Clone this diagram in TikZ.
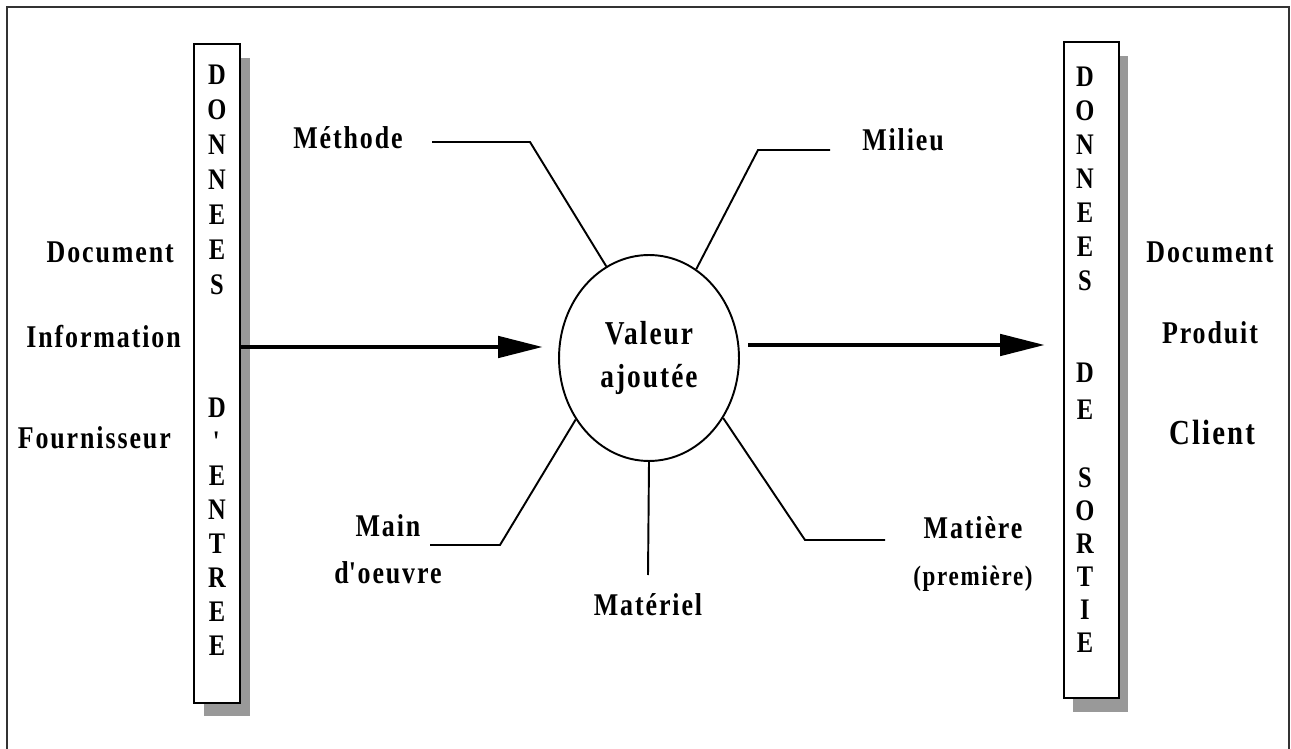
\documentclass[tikz,border=0pt]{standalone}
\usepackage{fontspec}
\setmainfont[FakeStretch=0.82,LetterSpace=6]{Liberation Serif}
\usetikzlibrary{positioning,shapes.geometric,shadows,arrows.meta}
\tikzset{%
  every bar/.style={
    draw,
    line width=1.1pt,
    fill=white,
    inner sep=0pt
  },
  bar letter/.style={
    font=\fontsize{17}{17}\selectfont\bfseries
  },
  spoke label/.style={
    font=\fontsize{18}{27}\selectfont\bfseries,
    align=center
  },
  spoke/.style={line width=1.1pt},
  flow/.style={line width=2.8pt, -{Triangle[length=0.9cm,width=0.42cm]}},
}

\begin{document}
\begin{tikzpicture}[x=0.02cm, y=-0.02cm]
        \useasboundingbox (0,0) rectangle (1291,749);
        \draw [line width=0.9pt, black!80] (7,749) -- (7,7) -- (1289,7) -- (1289,749);

        % bars
        \node [every bar, minimum width=0.92cm, minimum height=13.18cm,
          drop shadow={shadow xshift=0.2cm, shadow yshift=-0.27cm, fill=black!40, opacity=1}]
          (entree) at (217,373.5) {};
        \node [every bar, minimum width=1.1cm, minimum height=13.12cm,
          drop shadow={shadow xshift=0.18cm, shadow yshift=-0.28cm, fill=black!40, opacity=1}]
          (sortie) at (1091.5,370) {};

        \foreach \l [count=\i] in {D,O,N,N,E,E,S}
            \node [bar letter] (in-a\i) at (217,{75+35*(\i-1)}) {\l};
        \foreach \l [count=\i] in {D,\textquotesingle,E,N,T,R,E,E}
            \node [bar letter] (in-b\i) at (217,{408+34*(\i-1)}) {\l};
        \foreach \l [count=\i] in {D,O,N,N,E,E,S}
            \node [bar letter] (out-a\i) at (1085,{77+34*(\i-1)}) {\l};
        \foreach \l [count=\i] in {D,E}
            \node [bar letter] (out-b\i) at (1085,{373+37*(\i-1)}) {\l};
        \foreach \l [count=\i] in {S,O,R,T,I,E}
            \node [bar letter] (out-c\i) at (1085,{478+33*(\i-1)}) {\l};

        % inputs and outputs
        \node [spoke label, anchor=east] (doc-in) at (180,252) {Document};
        \node [spoke label, anchor=east] (info-in) at (187,337) {Information};
        \node [spoke label, anchor=east] (four-in) at (177,438) {Fournisseur};
        \node [spoke label] (doc-out) at (1210,252) {Document};
        \node [spoke label] (prod-out) at (1210,333) {Produit};
        \node [spoke label, font=\fontsize{20}{20}\selectfont\bfseries] (client-out) at (1212,432) {Client};

        % centre
        \node [ellipse, draw, line width=1.1pt, minimum width=3.6cm, minimum height=4.12cm,
          align=center, font=\fontsize{19}{24.4}\selectfont\bfseries] (va) at (649,358) {Valeur\\ajoutée};

        \coordinate (in-tip) at (543,347);
        \coordinate (out-start) at (748,345);
        \coordinate (out-tip) at (1045,345);
        \draw [flow] (entree.east |- in-tip) -- (in-tip);
        \draw [flow] (out-start) -- (out-tip);

        % the M's
        \node [spoke label] (methode) at (348,138) {Méthode};
        \node [spoke label] (milieu) at (903,140) {Milieu};
        \node [spoke label] (main) at (388,549) {Main\\d\textquotesingle oeuvre};
        \node [spoke label] (materiel) at (648,605) {Matériel};
        \node [spoke label] (matiere) at (973,554) {Matière\\{\fontsize{16}{16}\selectfont(première)}};

        \coordinate (methode-a) at (432,142);
        \coordinate (methode-b) at (530,142);
        \coordinate (milieu-a) at (830,150);
        \coordinate (milieu-b) at (758,150);
        \coordinate (main-a) at (430,545);
        \coordinate (main-b) at (500,545);
        \coordinate (materiel-a) at (648,575);
        \coordinate (matiere-a) at (885,540);
        \coordinate (matiere-b) at (805,540);

        \draw [spoke] (methode-a) -- (methode-b) -- (va.115);
        \draw [spoke] (milieu-a) -- (milieu-b) -- (va.62);
        \draw [spoke] (main-a) -- (main-b) -- (va.220);
        \draw [spoke] (va.south) -- (materiel-a);
        \draw [spoke] (matiere-a) -- (matiere-b) -- (va.321);
\end{tikzpicture}
\end{document}
